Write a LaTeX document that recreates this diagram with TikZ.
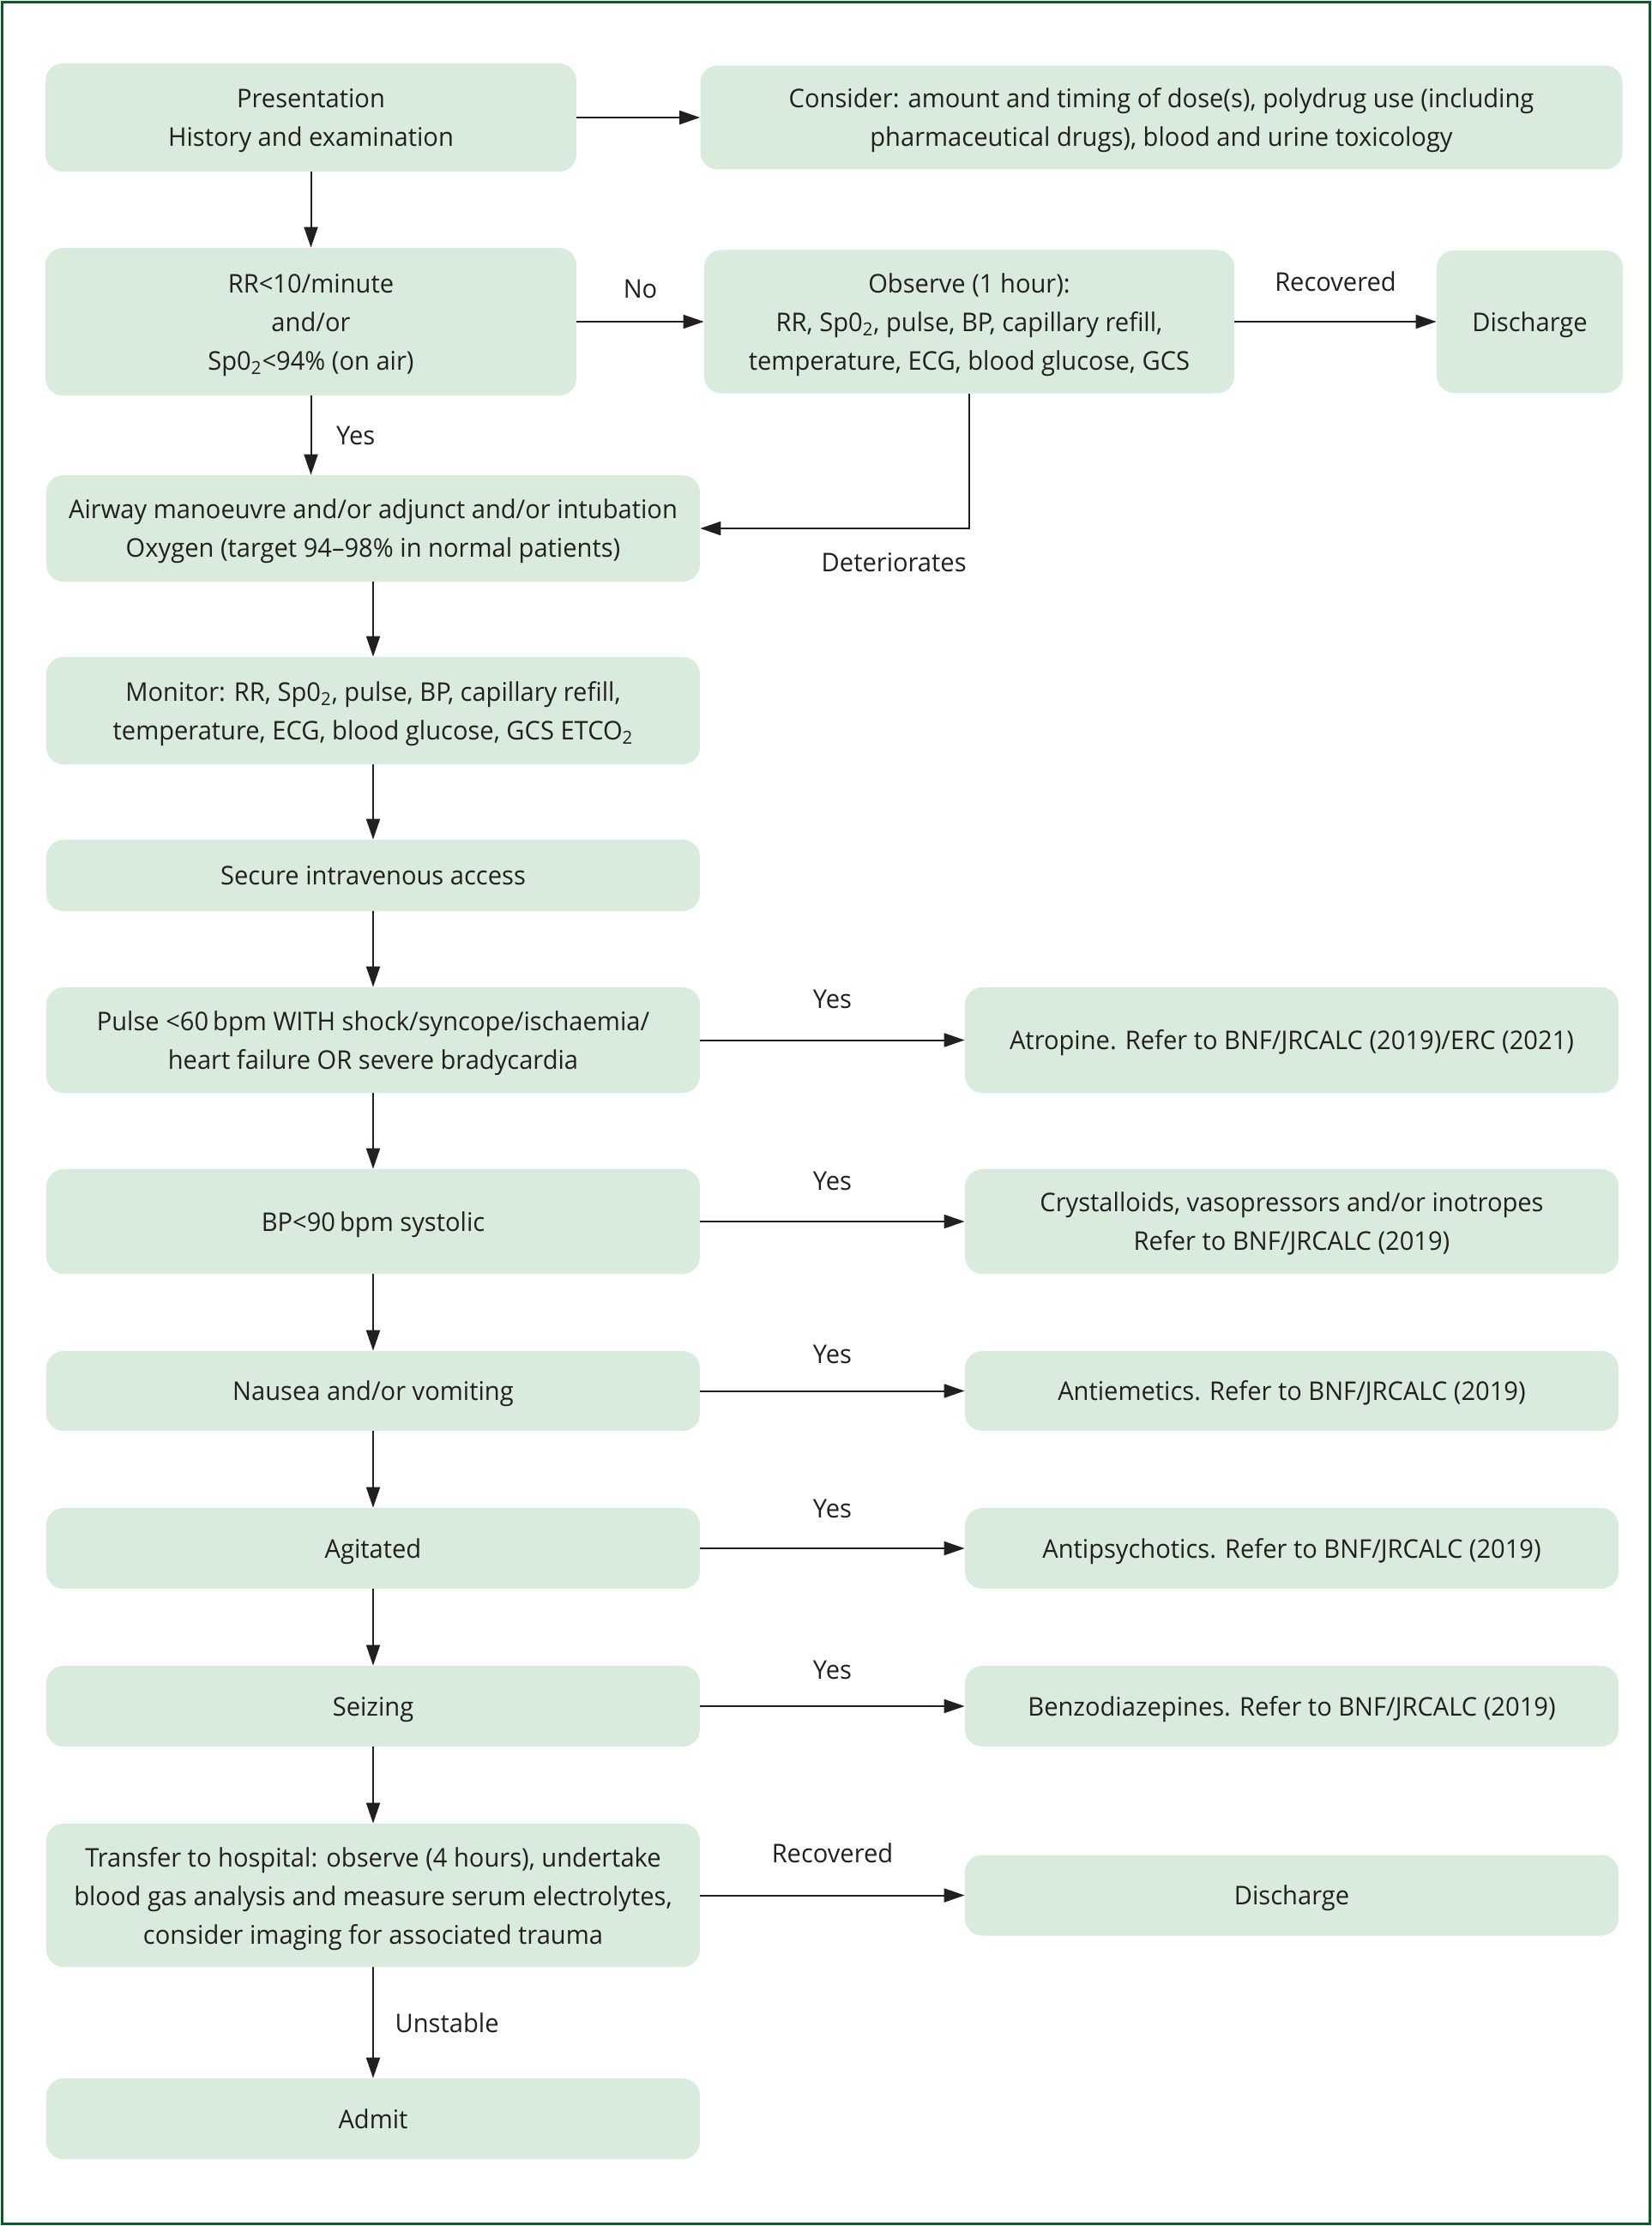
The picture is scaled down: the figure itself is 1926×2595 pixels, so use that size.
\documentclass[tikz,border=0pt]{standalone}
\usepackage{fontspec}
\setmainfont{Open Sans}[FakeStretch=0.97]
\usetikzlibrary{arrows.meta}
\definecolor{boxgreen}{HTML}{D9EBDD}
\definecolor{framegreen}{HTML}{0B5A2A}
\definecolor{ink}{HTML}{231F20}
\begin{document}
\begin{tikzpicture}[x=0.5pt,y=-0.5pt,
    flowbox/.style={fill=boxgreen,rounded corners=10pt,align=center,inner sep=0pt,
      text depth=-2.4pt,font=\fontsize{15}{22.5}\selectfont,text=ink},
    lbl/.style={font=\fontsize{15}{22.5}\selectfont,text=ink}]
      \useasboundingbox (0,0) rectangle (1926,2595);
      \draw[framegreen,line width=1.25pt] (2.5,2.5) rectangle (1923.5,2592.5);
      \draw
        (362.5,137) node[flowbox,minimum width=309.5pt,minimum height=63pt] (0)
          {Presentation\\History and examination}
        (1354,137) node[flowbox,minimum width=537.5pt,minimum height=60.5pt] (1)
          {Consider: amount and timing of dose(s), polydrug use (including\\pharmaceutical drugs), blood and urine toxicology}
        (362.5,375) node[flowbox,minimum width=309.5pt,minimum height=86pt] (2)
          {RR<10/minute\\and/or\\Sp0\textsubscript{2}<94\% (on air)}
        (1130,375) node[flowbox,minimum width=309pt,minimum height=83.5pt] (3)
          {Observe (1 hour):\\RR, Sp0\textsubscript{2}, pulse, BP, capillary refill,\\temperature, ECG, blood glucose, GCS}
        (1783.5,375) node[flowbox,minimum width=108.5pt,minimum height=83pt] (4)
          {Discharge}
        (435,616) node[flowbox,minimum width=381pt,minimum height=62pt] (5)
          {Airway manoeuvre and/or adjunct and/or intubation\\Oxygen (target 94--98\% in normal patients)}
        (435,828.5) node[flowbox,minimum width=381pt,minimum height=62.5pt] (6)
          {Monitor: RR, Sp0\textsubscript{2}, pulse, BP, capillary refill,\\temperature, ECG, blood glucose, GCS ETCO\textsubscript{2}}
        (435,1020.5) node[flowbox,minimum width=381pt,minimum height=41.5pt] (7)
          {Secure intravenous access}
        (435,1212.5) node[flowbox,minimum width=381pt,minimum height=61.5pt] (8)
          {Pulse <60\,bpm WITH shock/syncope/ischaemia/\\heart failure OR severe bradycardia}
        (1506,1212.5) node[flowbox,minimum width=381pt,minimum height=61.5pt] (9)
          {Atropine. Refer to BNF/JRCALC (2019)/ERC (2021)}
        (435,1424) node[flowbox,minimum width=381pt,minimum height=61pt] (10)
          {BP<90\,bpm systolic}
        (1506,1424) node[flowbox,minimum width=381pt,minimum height=61pt] (11)
          {Crystalloids, vasopressors and/or inotropes\\Refer to BNF/JRCALC (2019)}
        (435,1621.5) node[flowbox,minimum width=381pt,minimum height=46.5pt] (12)
          {Nausea and/or vomiting}
        (1506,1621.5) node[flowbox,minimum width=381pt,minimum height=46.5pt] (13)
          {Antiemetics. Refer to BNF/JRCALC (2019)}
        (435,1805) node[flowbox,minimum width=381pt,minimum height=47pt] (14)
          {Agitated}
        (1506,1805) node[flowbox,minimum width=381pt,minimum height=47pt] (15)
          {Antipsychotics. Refer to BNF/JRCALC (2019)}
        (435,1989) node[flowbox,minimum width=381pt,minimum height=47pt] (16)
          {Seizing}
        (1506,1989) node[flowbox,minimum width=381pt,minimum height=47pt] (17)
          {Benzodiazepines. Refer to BNF/JRCALC (2019)}
        (435,2209.5) node[flowbox,minimum width=381pt,minimum height=83.5pt] (18)
          {Transfer to hospital: observe (4 hours), undertake\\blood gas analysis and measure serum electrolytes,\\consider imaging for associated trauma}
        (1506,2209.5) node[flowbox,minimum width=381pt,minimum height=47pt] (19)
          {Discharge}
        (435,2470) node[flowbox,minimum width=381pt,minimum height=47pt] (20)
          {Admit};
      \begin{scope}[-{Triangle[length=12pt,width=8pt]},line width=1pt,draw=ink]
        \draw (0) to (1);
        \draw (0) to (2);
        \draw (2) to node[lbl,above=10pt] {No} (3);
        \draw (3) to node[lbl,above=14pt] {Recovered} (4);
        \draw (2.south) to node[lbl,right=11pt] {Yes} (2.south |- 5.north);
        \draw (3) |- node[lbl,below=10.4pt,pos=0.64] {Deteriorates} (5);
        \draw (5) to (6);
        \draw (6) to (7);
        \draw (7) to (8);
        \draw (8) to node[lbl,above=14.5pt] {Yes} (9);
        \draw (8) to (10);
        \draw (10) to node[lbl,above=14.5pt] {Yes} (11);
        \draw (10) to (12);
        \draw (12) to node[lbl,above=12pt] {Yes} (13);
        \draw (12) to (14);
        \draw (14) to node[lbl,above=14pt] {Yes} (15);
        \draw (14) to (16);
        \draw (16) to node[lbl,above=12pt] {Yes} (17);
        \draw (16) to (18);
        \draw (18) to node[lbl,above=15pt] {Recovered} (19);
        \draw (18) to node[lbl,right=9pt] {Unstable} (20);
      \end{scope}
    \end{tikzpicture}
\end{document}
